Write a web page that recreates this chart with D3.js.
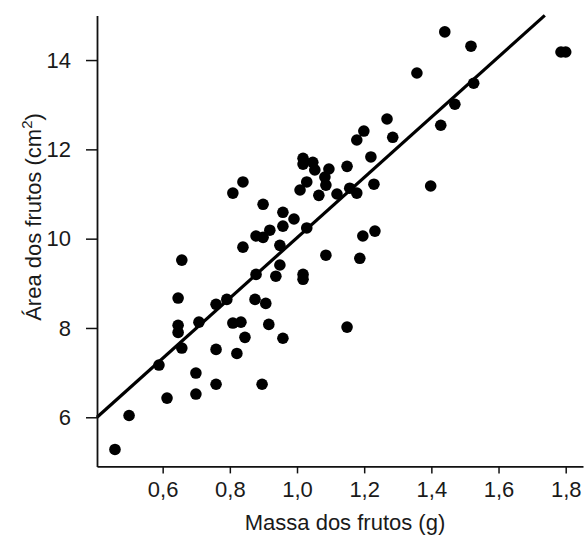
<!DOCTYPE html>
<html>
<head>
<meta charset="utf-8">
<script src="https://cdn.jsdelivr.net/npm/d3@7"></script>
<style>
  html, body { margin: 0; padding: 0; background: #fff; }
  svg { display: block; }
  text { font-family: "Liberation Sans", Arial, Helvetica, sans-serif; fill: #1a1a1a; }
</style>
</head>
<body>
<svg id="chart" width="585" height="538"></svg>
<script>
// ---- data ----
const massa = [0.458,0.500,0.589,0.613,0.646,0.646,0.646,0.657,0.657,0.699,
  0.699,0.708,0.759,0.759,0.759,0.791,0.809,0.809,0.833,0.839,
  0.839,0.845,0.821,0.875,0.878,0.899,0.878,0.899,0.896,0.907,
  0.916,0.919,0.937,0.949,0.949,0.958,0.958,0.958,0.991,1.009,
  1.018,1.018,1.018,1.018,1.029,1.029,1.047,1.053,1.065,1.086,
  1.083,1.086,1.095,1.119,1.149,1.149,1.157,1.178,1.187,1.196,
  1.220,1.229,1.232,1.178,1.199,1.268,1.285,1.357,1.398,1.428,
  1.440,1.470,1.518,1.526,1.786,1.800];
const area = [5.28,6.04,7.17,6.43,8.67,8.06,7.90,9.52,7.55,6.99,
  6.52,8.13,8.53,7.52,6.74,8.64,11.02,8.11,8.13,11.27,
  9.81,7.79,7.43,8.64,10.06,10.03,9.20,10.77,6.74,8.55,
  8.08,10.19,9.16,9.85,9.41,10.59,10.28,7.77,10.44,11.09,
  11.80,11.67,9.20,9.09,11.27,10.24,11.71,11.54,10.97,11.20,
  11.38,9.63,11.56,11.00,11.62,8.02,11.13,11.02,9.56,10.06,
  11.83,11.22,10.17,12.21,12.41,12.68,12.27,13.71,11.18,12.54,
  14.63,13.01,14.31,13.48,14.18,14.18];
const fit = [3.27, 6.75];               // intercept, slope
const xTicks = [0.6, 0.8, 1.0, 1.2, 1.4, 1.6, 1.8];
const yTicks = [6, 8, 10, 12, 14];
const xLabel = "Massa dos frutos (g)";
const yLabel = "Área dos frutos (cm";
const ySup = "2";

// ---- layout ----
const svg = d3.select("#chart");
const x = d3.scaleLinear().domain([0.4045, 1.8515]).range([97, 583]);
const y = d3.scaleLinear().domain([4.9, 15.0]).range([466.4, 15.4]);
const fmt = v => d3.format(".1f")(v).replace(".", ",");

// regression line
const x0 = x.domain()[0];
const x1 = Math.min(x.domain()[1], (y.domain()[1] - fit[0]) / fit[1]);
svg.append("line")
  .attr("x1", x(x0)).attr("y1", y(fit[0] + fit[1] * x0))
  .attr("x2", x(x1)).attr("y2", y(fit[0] + fit[1] * x1))
  .attr("stroke", "#000").attr("stroke-width", 3.2);

// points
svg.append("g").selectAll("circle")
  .data(massa.map((m, i) => [m, area[i]]))
  .join("circle")
  .attr("cx", d => x(d[0])).attr("cy", d => y(d[1]))
  .attr("r", 5.8).attr("fill", "#000");

// axes
const gx = svg.append("g").attr("transform", "translate(0,466.4)")
  .call(d3.axisBottom(x).tickValues(xTicks).tickFormat(fmt).tickSize(7).tickSizeOuter(0).tickPadding(8));
const gy = svg.append("g").attr("transform", "translate(97,0)")
  .call(d3.axisLeft(y).tickValues(yTicks).tickSize(11).tickSizeOuter(0).tickPadding(15));
[gx, gy].forEach(g => {
  g.select(".domain").attr("stroke", "#111").attr("stroke-width", 1.8);
  g.selectAll(".tick line").attr("stroke", "#111").attr("stroke-width", 1.5);
  g.selectAll(".tick text").attr("font-size", 22).attr("fill", "#1a1a1a")
    .attr("font-family", "'Liberation Sans', Arial, sans-serif");
});

// axis titles
svg.append("text").attr("x", 345).attr("y", 530).attr("text-anchor", "middle")
  .attr("font-size", 22).text(xLabel);
const yt = svg.append("text").attr("transform", "translate(41,217) rotate(-90)")
  .attr("text-anchor", "middle").attr("font-size", 22);
yt.append("tspan").text(yLabel);
yt.append("tspan").attr("font-size", 15).attr("dy", -9).text(ySup);
yt.append("tspan").attr("dy", 9).text(")");
</script>
</body>
</html>
